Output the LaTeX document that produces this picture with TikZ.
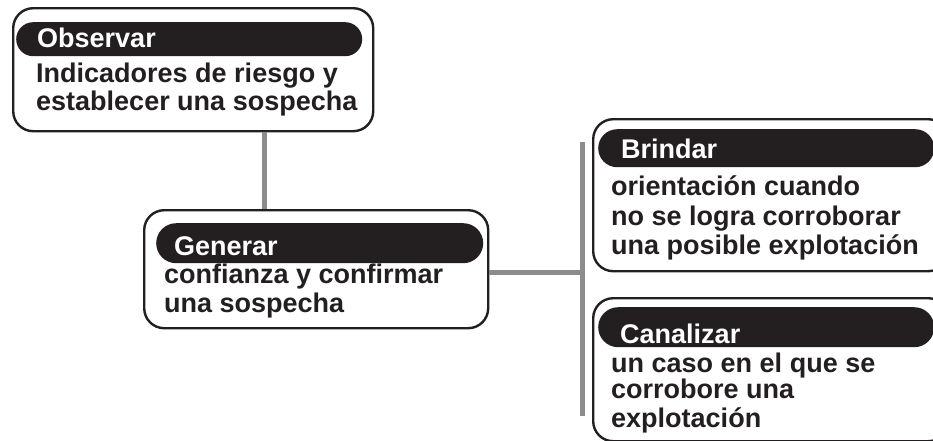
\documentclass[tikz,border=0pt]{standalone}
\usepackage{fontspec}
\setmainfont{Liberation Sans}
\definecolor{pillc}{HTML}{231F20}
\definecolor{linec}{HTML}{8C8C8C}
\begin{document}
\begin{tikzpicture}[x=1pt,y=-1pt,
  box/.style={draw=pillc, line width=2.4pt, rounded corners=20pt, fill=white, inner sep=0, anchor=north west},
  pill/.style={fill=pillc, rounded corners=17pt, inner sep=0, anchor=north west},
  head/.style={anchor=base west, inner sep=0, text=white, font=\fontsize{27}{29}\selectfont\bfseries},
  body/.style={anchor=base west, inner sep=0, text=pillc, font=\fontsize{27}{29}\selectfont\bfseries},
  conn/.style={draw=linec, line width=5pt}]
\useasboundingbox (0,0) rectangle (933,440);
% boxes
\node[box, minimum width=360pt, minimum height=123pt] (b1) at (12,7) {};
\node[box, minimum width=344pt, minimum height=118pt] (b2) at (143,209) {};
\node[box, minimum width=355pt, minimum height=152pt] (b3) at (592,118) {};
\node[box, minimum width=355pt, minimum height=143pt] (b4) at (592,297) {};
% pills
\node[pill, minimum width=346pt, minimum height=34pt] (p1) at (16,22) {};
\node[pill, minimum width=327pt, minimum height=40pt, rounded corners=20pt] (p2) at (156,223) {};
\node[pill, minimum width=336pt, minimum height=38pt, rounded corners=19pt] (p3) at (598,129) {};
\node[pill, minimum width=336pt, minimum height=40pt, rounded corners=20pt] (p4) at (598,307) {};
% connectors
\coordinate (x1) at (264,0);
\coordinate (y2) at (0,272);
\coordinate (t1) at (582,142);
\coordinate (t2) at (582,416);
\draw[conn] (b1.south -| x1) -- (b2.north -| x1);
\draw[conn] (b2.east |- y2) -- (t1 |- y2);
\draw[conn] (t1) -- (t2);
% texts
\node[head] (h1) at (37,47) {Observar};
\node[body] (l11) at (36,82) {Indicadores de riesgo y};
\node[body] (l12) at (36,110) {establecer una sospecha};
\node[head] (h2) at (174,255) {Generar};
\node[body] (l21) at (164,283) {confianza y confirmar};
\node[body] (l22) at (164,312) {una sospecha};
\node[head] (h3) at (621,158) {Brindar};
\node[body] (l31) at (611,195) {orientación cuando};
\node[body] (l32) at (611,225) {no se logra corroborar};
\node[body] (l33) at (611,254) {una posible explotación};
\node[head] (h4) at (620,343) {Canalizar};
\node[body] (l41) at (611,372) {un caso en el que se};
\node[body] (l42) at (611,398) {corrobore una};
\node[body] (l43) at (611,427) {explotación};
\end{tikzpicture}
\end{document}
